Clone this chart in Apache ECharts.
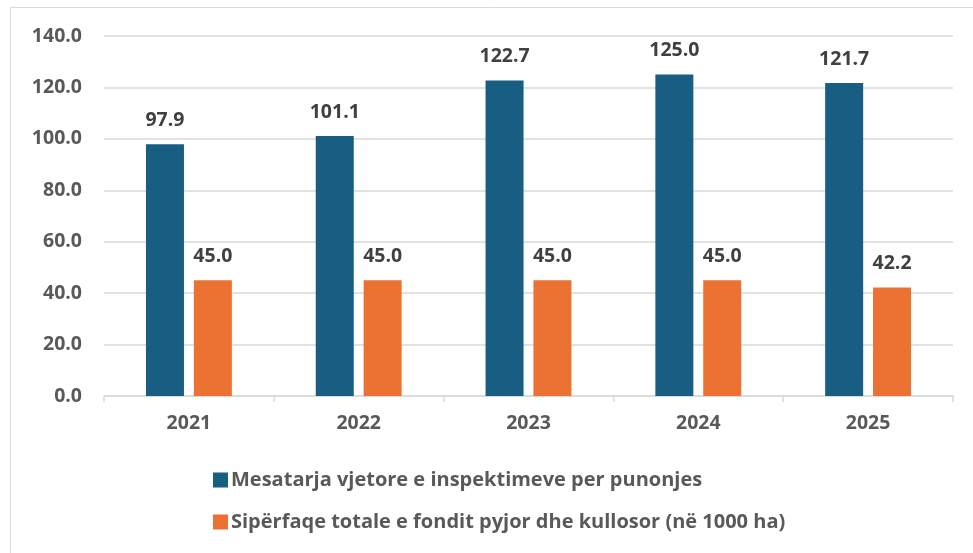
<!DOCTYPE html>
<html><head><meta charset="utf-8">
<script src="https://cdn.jsdelivr.net/npm/echarts@6/dist/echarts.min.js"></script>
<style>html,body{margin:0;padding:0;background:#fff}#c{width:973px;height:553px}</style>
</head><body><div id="c"></div>
<script>
const categories = ['2021','2022','2023','2024','2025'];
const seriesNames = ['Mesatarja vjetore e inspektimeve per punonjes','Sipërfaqe totale e fondit pyjor dhe kullosor (në 1000 ha)'];
const inspections = [97.9, 101.1, 122.7, 125.0, 121.7];
const forestArea = [45.0, 45.0, 45.0, 45.0, 42.2];
const yTicks = [0, 20, 40, 60, 80, 100, 120, 140];

const FONT = '"Open Sans", Lato, sans-serif';
const chart = echarts.init(document.getElementById('c'), null, {renderer:'canvas'});
const lbl = {show:true, position:'top', distance:14, color:'#404040', fontFamily:FONT, fontWeight:'bold', fontSize:19.5, formatter:p=>p.value.toFixed(1)};
chart.setOption({
  animation:false,
  graphic:[{type:'rect', shape:{x:10.5,y:7.5,width:1000,height:600}, style:{fill:'none', stroke:'#d9d9d9', lineWidth:1}, silent:true}],
  grid:{left:104, right:20, top:36, bottom:157, containLabel:false},
  legend:{
    orient:'vertical', left:208, top:465, itemGap:22, itemWidth:15, itemHeight:15, icon:'rect',
    textStyle:{color:'#595959', fontFamily:FONT, fontWeight:'bold', fontSize:20, padding:[0,0,0,-2]},
    data:seriesNames
  },
  xAxis:{type:'category', data:categories,
    axisLine:{lineStyle:{color:'#d9d9d9', width:1.5}},
    axisTick:{show:true, length:6, lineStyle:{color:'#d9d9d9', width:1.5}},
    axisLabel:{color:'#595959', fontFamily:FONT, fontWeight:'bold', fontSize:19.5, margin:17}
  },
  yAxis:{type:'value', min:yTicks[0], max:yTicks[yTicks.length-1], interval:20,
    axisLine:{show:false}, axisTick:{show:false},
    splitLine:{lineStyle:{color:'#d9d9d9', width:1.5}},
    axisLabel:{color:'#595959', fontFamily:FONT, fontWeight:'bold', fontSize:19.5, margin:22, formatter:v=>v.toFixed(1)}
  },
  series:[
    {name:seriesNames[0], type:'bar', data:inspections, barWidth:38, barGap:'26%', itemStyle:{color:'#175E82'}, label:lbl},
    {name:seriesNames[1], type:'bar', data:forestArea, barWidth:38, itemStyle:{color:'#EB7232'}, label:lbl}
  ]
});
</script></body></html>
